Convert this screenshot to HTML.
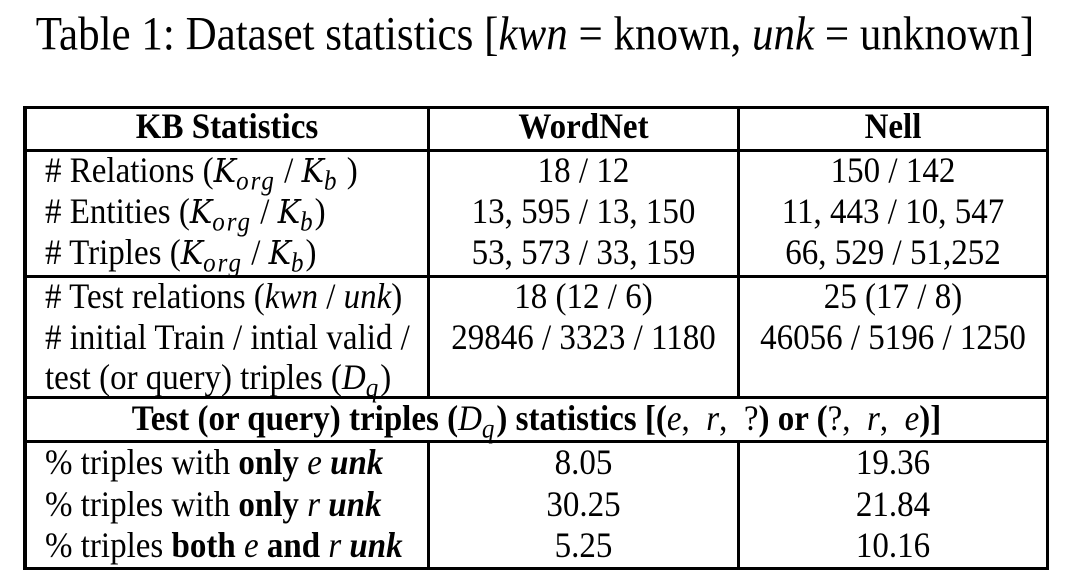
<!DOCTYPE html>
<html><head><meta charset="utf-8"><style>
body{margin:0;width:1078px;height:583px;background:#fff;position:relative;overflow:hidden;font-family:"Liberation Serif",serif;color:#000}
.h{position:absolute;height:3px;background:#000}
.v{position:absolute;width:3px;background:#000}
.t{position:absolute;font-size:33px;line-height:40px;white-space:nowrap;transform:scaleY(1.1);transform-origin:center}
.c{text-align:center}
.m{font-style:italic;font-family:"DejaVu Serif",serif;font-size:30px}
sub{font-size:25px;font-style:italic;vertical-align:-7px;line-height:0;letter-spacing:2px;font-weight:normal}
.n{font-weight:normal}
</style></head><body>
<div class="t c" style="left:0;width:1070px;top:12px;font-size:43px;line-height:46px">Table 1: Dataset statistics [<i>kwn</i> = known, <i>unk</i> = unknown]</div>
<div>
<div class="h" style="left:24px;width:1025px;top:106px"></div>
<div class="h" style="left:24px;width:1025px;top:149px"></div>
<div class="h" style="left:24px;width:1025px;top:275px"></div>
<div class="h" style="left:24px;width:1025px;top:396px"></div>
<div class="h" style="left:24px;width:1025px;top:440px"></div>
<div class="h" style="left:24px;width:1025px;top:567px"></div>
<div class="v" style="left:23px;width:4px;top:106px;height:464px"></div>
<div class="v" style="left:1046px;top:106px;height:464px"></div>
<div class="v" style="left:427px;top:106px;height:292px"></div>
<div class="v" style="left:737px;top:106px;height:292px"></div>
<div class="v" style="left:427px;top:440px;height:130px"></div>
<div class="v" style="left:737px;top:440px;height:130px"></div>

<div class="t c" style="left:27px;width:400px;top:107px;font-weight:bold">KB Statistics</div>
<div class="t c" style="left:430px;width:307px;top:107px;font-weight:bold">WordNet</div>
<div class="t c" style="left:740px;width:306px;top:107px;font-weight:bold">Nell</div>

<div class="t" style="left:45px;top:151px"># Relations (<span class="m">K</span><sub>org</sub> / <span class="m">K</span><sub>b</sub> )</div>
<div class="t" style="left:45px;top:192px"># Entities (<span class="m">K</span><sub>org</sub> / <span class="m">K</span><sub>b</sub>)</div>
<div class="t" style="left:45px;top:233px"># Triples (<span class="m">K</span><sub>org</sub> / <span class="m">K</span><sub>b</sub>)</div>
<div class="t c" style="left:430px;width:307px;top:151px">18 / 12</div>
<div class="t c" style="left:430px;width:307px;top:192px">13, 595 / 13, 150</div>
<div class="t c" style="left:430px;width:307px;top:233px">53, 573 / 33, 159</div>
<div class="t c" style="left:740px;width:306px;top:151px">150 / 142</div>
<div class="t c" style="left:740px;width:306px;top:192px">11, 443 / 10, 547</div>
<div class="t c" style="left:740px;width:306px;top:233px">66, 529 / 51,252</div>

<div class="t" style="left:45px;top:277px"># Test relations (<i>kwn</i> / <i>unk</i>)</div>
<div class="t" style="left:45px;top:318px"># initial Train / intial valid /</div>
<div class="t" style="left:45px;top:358px">test (or query) triples (<i>D</i><sub>q</sub>)</div>
<div class="t c" style="left:430px;width:307px;top:277px">18 (12 / 6)</div>
<div class="t c" style="left:430px;width:307px;top:318px">29846 / 3323 / 1180</div>
<div class="t c" style="left:740px;width:306px;top:277px">25 (17 / 8)</div>
<div class="t c" style="left:740px;width:306px;top:318px">46056 / 5196 / 1250</div>

<div class="t c" style="left:27px;width:1019px;top:399px;font-weight:bold">Test (or query) triples (<i class="n">D</i><sub>q</sub>) statistics [(<i class="n">e</i><span class="n">,&nbsp; </span><i class="n">r</i><span class="n">,&nbsp; ?</span>) or (<span class="n">?,&nbsp; </span><i class="n">r</i><span class="n">,&nbsp; </span><i class="n">e</i>)]</div>

<div class="t" style="left:45px;top:443px">% triples with <b>only</b> <i>e</i> <b><i>unk</i></b></div>
<div class="t" style="left:45px;top:485px">% triples with <b>only</b> <i>r</i> <b><i>unk</i></b></div>
<div class="t" style="left:45px;top:526px">% triples <b>both</b> <i>e</i> <b>and</b> <i>r</i> <b><i>unk</i></b></div>
<div class="t c" style="left:430px;width:307px;top:443px">8.05</div>
<div class="t c" style="left:430px;width:307px;top:485px">30.25</div>
<div class="t c" style="left:430px;width:307px;top:526px">5.25</div>
<div class="t c" style="left:740px;width:306px;top:443px">19.36</div>
<div class="t c" style="left:740px;width:306px;top:485px">21.84</div>
<div class="t c" style="left:740px;width:306px;top:526px">10.16</div>
</div>
</body></html>
